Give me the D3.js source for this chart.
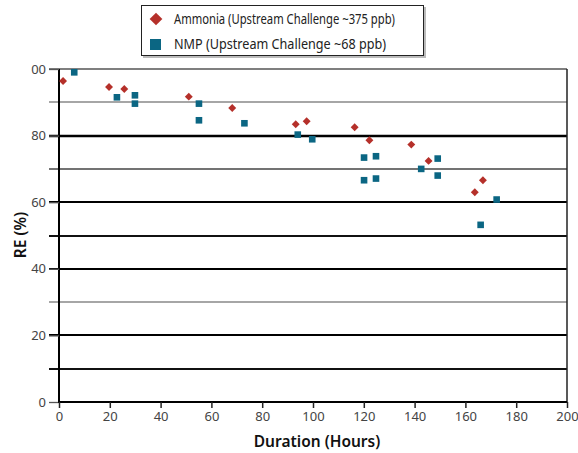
<!DOCTYPE html>
<html><head><meta charset="utf-8">
<script src="https://cdn.jsdelivr.net/npm/d3@7"></script>
<style>body{margin:0;background:#fff}svg{display:block}</style>
</head><body><svg id="c" width="578" height="453"></svg>
<script>
const ammoniaX = [1.6, 19.7, 25.7, 51.1, 68.2, 93.2, 97.5, 116.4, 122.2, 138.7, 145.5, 163.7, 166.9];
const ammoniaY = [96.4, 94.6, 94.0, 91.7, 88.3, 83.4, 84.3, 82.5, 78.6, 77.3, 72.4, 63.0, 66.6];
const nmpX = [6.0, 22.8, 29.9, 29.9, 55.1, 55.1, 73.0, 94.0, 99.7, 120.1, 124.8, 120.1, 124.8, 149.1, 142.6, 149.1, 172.3, 166.0];
const nmpY = [99.0, 91.5, 92.1, 89.6, 89.6, 84.6, 83.7, 80.3, 78.9, 73.4, 73.8, 66.6, 67.1, 73.1, 70.0, 68.0, 60.8, 53.2];
const xTicks = [0, 20, 40, 60, 80, 100, 120, 140, 160, 180, 200];
const yTicks = [0, 20, 40, 60, 80, 100];
const yTickLabels = ["0", "20", "40", "60", "80", "00"];
const gridValues = [10, 20, 30, 40, 50, 60, 70, 80, 90, 100];
const seriesNames = ["Ammonia (Upstream Challenge ~375 ppb)", "NMP (Upstream Challenge ~68 ppb)"];
const seriesColors = ["#b5302a", "#0b6683"];

const svg = d3.select("#c");
const font = "'Noto Sans', 'Open Sans', sans-serif";
const x = d3.scaleLinear().domain([0, 200]).range([59, 567]);
const y = d3.scaleLinear().domain([0, 100]).range([402, 69]);

// gridlines
const gridStyle = {10:["#111",2],20:["#000",2.2],30:["#888",1.5],40:["#000",2.2],50:["#111",2],60:["#000",2.2],70:["#444",1.6],80:["#000",2.4],90:["#888",1.6],100:["#555",1.6]};
svg.append("g").selectAll("line").data(gridValues).join("line")
  .attr("x1", 49).attr("x2", 567)
  .attr("y1", d => Math.round(y(d))).attr("y2", d => Math.round(y(d)))
  .attr("stroke", d => gridStyle[d][0]).attr("stroke-width", d => gridStyle[d][1]);

// right border
svg.append("line").attr("x1", 567).attr("x2", 567).attr("y1", y(100)).attr("y2", y(0))
  .attr("stroke", "#222").attr("stroke-width", 1.5);

// y axis
const yAxis = d3.axisLeft(y).tickValues(yTicks).tickSize(10).tickPadding(3)
  .tickFormat((d, i) => yTickLabels[i]);
const gy = svg.append("g").attr("transform", "translate(59,0)").call(yAxis);
gy.select(".domain").attr("stroke", "#000").attr("stroke-width", 2).attr("d", `M0,${y(100)}V${y(0)+1}`);
gy.selectAll(".tick line").attr("stroke", "#555").attr("stroke-width", 1.3);
gy.selectAll("text").attr("font-family", font).attr("font-size", 13).attr("fill", "#444");

// x axis
const xAxis = d3.axisBottom(x).tickValues(xTicks).tickSize(6).tickPadding(4);
const gx = svg.append("g").attr("transform", "translate(0,402)").call(xAxis);
gx.select(".domain").attr("stroke", "#000").attr("stroke-width", 2).attr("d", `M${x(0)-1},0H${x(200)}`);
gx.selectAll(".tick line").attr("stroke", "#222").attr("stroke-width", 1.5);
gx.selectAll("text").attr("font-family", font).attr("font-size", 13).attr("fill", "#444");

// axis titles
svg.append("text").attr("x", 317).attr("y", 447).attr("text-anchor", "middle")
  .attr("font-family", font).attr("font-size", 15.5).attr("font-weight", 600).attr("fill", "#111")
  .text("Duration (Hours)");
svg.append("text").attr("transform", "translate(26,235) rotate(-90)").attr("text-anchor", "middle")
  .attr("font-family", font).attr("font-size", 15.5).attr("font-weight", 600).attr("fill", "#111")
  .text("RE (%)");

// points
svg.append("g").selectAll("rect").data(ammoniaX.map((v, i) => [v, ammoniaY[i]])).join("rect")
  .attr("x", -2.8).attr("y", -2.8).attr("width", 5.6).attr("height", 5.6)
  .attr("transform", d => `translate(${x(d[0])},${y(d[1])}) rotate(45)`)
  .attr("fill", seriesColors[0]);
svg.append("g").selectAll("rect").data(nmpX.map((v, i) => [v, nmpY[i]])).join("rect")
  .attr("x", d => x(d[0]) - 3.3).attr("y", d => y(d[1]) - 3.3).attr("width", 6.6).attr("height", 6.6)
  .attr("fill", seriesColors[1]);

// legend
const lg = svg.append("g");
lg.append("rect").attr("x", 143).attr("y", 7).attr("width", 283).attr("height", 51).attr("fill", "#bbb");
lg.append("rect").attr("x", 141.5).attr("y", 5.5).attr("width", 282).attr("height", 50)
  .attr("fill", "#fff").attr("stroke", "#222").attr("stroke-width", 1);
lg.append("rect").attr("x", -4.5).attr("y", -4.5).attr("width", 9).attr("height", 9)
  .attr("transform", "translate(156,19) rotate(45)").attr("fill", seriesColors[0]);
lg.append("rect").attr("x", 150).attr("y", 39).attr("width", 11).attr("height", 11).attr("fill", seriesColors[1]);
seriesNames.forEach((n, i) => {
  lg.append("text").attr("x", 174).attr("y", 24 + i * 25).attr("font-family", font)
    .attr("font-size", 13.5).attr("textLength", i === 0 ? 221 : 212).attr("lengthAdjust", "spacingAndGlyphs")
    .attr("fill", "#222").text(n);
});
</script></body></html>
